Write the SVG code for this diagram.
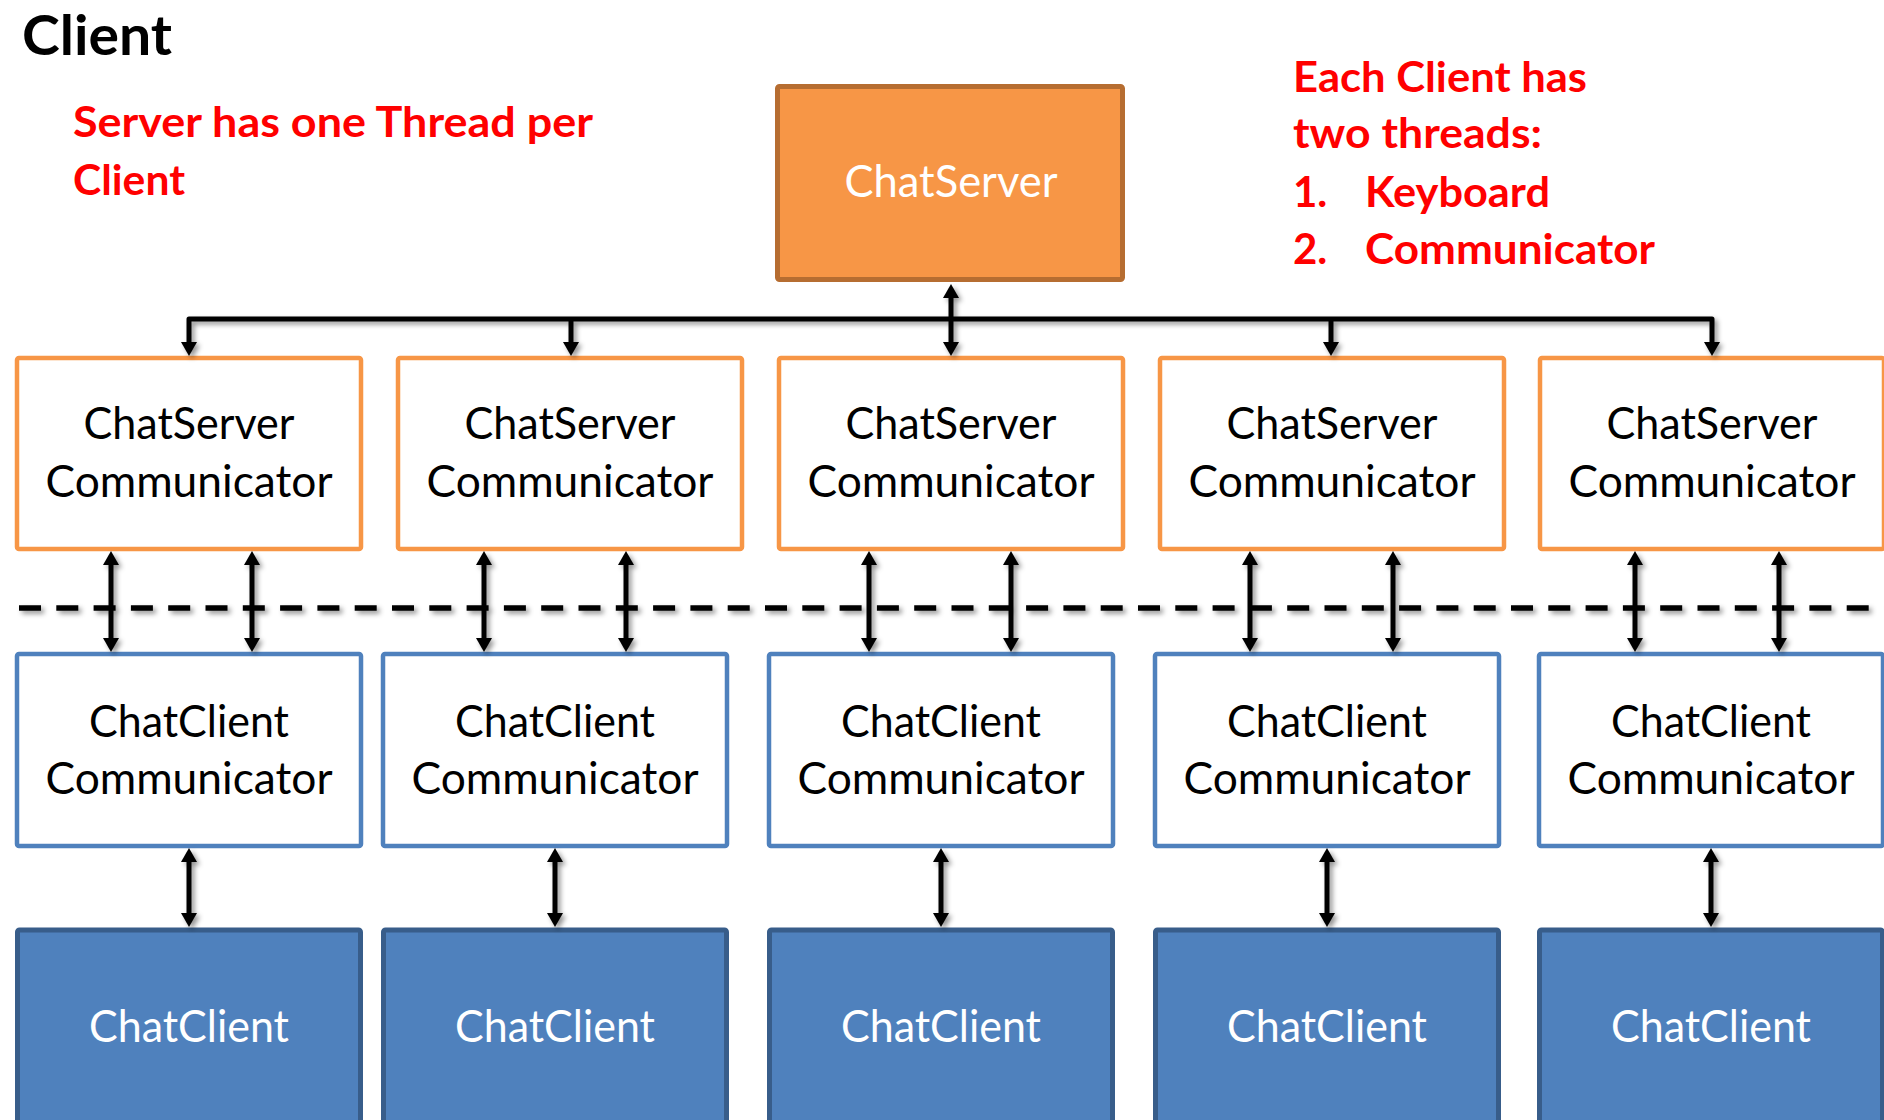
<svg xmlns="http://www.w3.org/2000/svg" width="1884" height="1120" viewBox="0 0 1884 1120">
  <defs>
    <style>
      .srv { fill: #F79646; stroke: #B66D31; stroke-width: 5; }
      .scomm { fill: #FFFFFF; stroke: #F79646; stroke-width: 4.5; }
      .ccomm { fill: #FFFFFF; stroke: #4F81BD; stroke-width: 4.5; }
      .cli { fill: #4F81BD; stroke: #385D8A; stroke-width: 5; }
      .lbl { font-family: Lato, "Open Sans", sans-serif; font-size: 43.5px; text-anchor: middle; }
      .dark { fill: #000000; }
      .light { fill: #FFFFFF; }
      .note { font-family: Lato, "Open Sans", sans-serif; font-weight: bold; font-size: 42px; fill: #FF0000; }
      .title { font-family: Lato, "Open Sans", sans-serif; font-weight: bold; font-size: 55px; fill: #000000; }
      .wire { fill: none; stroke: #000000; stroke-width: 5; stroke-linejoin: round; }
      .arr2 { marker-start: url(#head); marker-end: url(#head); }
      .arr1 { marker-end: url(#head); }
      .dash { fill: none; stroke: #000000; stroke-width: 5.5; stroke-dasharray: 22 15.3; }
    </style>
    <marker id="head" markerUnits="userSpaceOnUse" markerWidth="16" markerHeight="16" refX="4" refY="8" orient="auto-start-reverse" viewBox="0 0 16 16">
      <path d="M0,0 L14,8 L0,16 z" fill="#000000"/>
    </marker>
    <filter id="shade" x="-5%" y="-5%" width="110%" height="115%">
      <feDropShadow dx="3" dy="3" stdDeviation="2.5" flood-color="#000000" flood-opacity="0.42"/>
    </filter>
  </defs>

  <rect width="1884" height="1120" fill="#FFFFFF"/>

  <!-- headings and notes -->
  <text class="title" x="22" y="55" textLength="150" lengthAdjust="spacingAndGlyphs">Client</text>
  <g id="note-server">
    <text class="note" x="73" y="137" textLength="520" lengthAdjust="spacingAndGlyphs">Server has one Thread per</text>
    <text class="note" x="73" y="195" textLength="112" lengthAdjust="spacingAndGlyphs">Client</text>
  </g>
  <g id="note-client">
    <text class="note" x="1293" y="92" textLength="294" lengthAdjust="spacingAndGlyphs">Each Client has</text>
    <text class="note" x="1293" y="148" textLength="249" lengthAdjust="spacingAndGlyphs">two threads:</text>
    <text class="note" x="1293" y="207">1.</text>
    <text class="note" x="1365" y="207" textLength="185" lengthAdjust="spacingAndGlyphs">Keyboard</text>
    <text class="note" x="1293" y="264">2.</text>
    <text class="note" x="1365" y="264" textLength="290" lengthAdjust="spacingAndGlyphs">Communicator</text>
  </g>

  <!-- server -->
  <g id="chat-server">
    <rect class="srv" x="777.5" y="86.5" width="345" height="193" rx="2"/>
    <text class="lbl light" x="951" y="197" textLength="213" lengthAdjust="spacingAndGlyphs">ChatServer</text>
  </g>

  <!-- server-side communicator threads -->
  <g id="server-comm-1">
    <rect class="scomm" x="17" y="358" width="344" height="191" rx="2"/>
    <text class="lbl dark" x="189" y="439" textLength="211" lengthAdjust="spacingAndGlyphs">ChatServer</text>
    <text class="lbl dark" x="189" y="497" textLength="287" lengthAdjust="spacingAndGlyphs">Communicator</text>
  </g>
  <g id="server-comm-2">
    <rect class="scomm" x="398" y="358" width="344" height="191" rx="2"/>
    <text class="lbl dark" x="570" y="439" textLength="211" lengthAdjust="spacingAndGlyphs">ChatServer</text>
    <text class="lbl dark" x="570" y="497" textLength="287" lengthAdjust="spacingAndGlyphs">Communicator</text>
  </g>
  <g id="server-comm-3">
    <rect class="scomm" x="779" y="358" width="344" height="191" rx="2"/>
    <text class="lbl dark" x="951" y="439" textLength="211" lengthAdjust="spacingAndGlyphs">ChatServer</text>
    <text class="lbl dark" x="951" y="497" textLength="287" lengthAdjust="spacingAndGlyphs">Communicator</text>
  </g>
  <g id="server-comm-4">
    <rect class="scomm" x="1160" y="358" width="344" height="191" rx="2"/>
    <text class="lbl dark" x="1332" y="439" textLength="211" lengthAdjust="spacingAndGlyphs">ChatServer</text>
    <text class="lbl dark" x="1332" y="497" textLength="287" lengthAdjust="spacingAndGlyphs">Communicator</text>
  </g>
  <g id="server-comm-5">
    <rect class="scomm" x="1540" y="358" width="344" height="191" rx="2"/>
    <text class="lbl dark" x="1712" y="439" textLength="211" lengthAdjust="spacingAndGlyphs">ChatServer</text>
    <text class="lbl dark" x="1712" y="497" textLength="287" lengthAdjust="spacingAndGlyphs">Communicator</text>
  </g>

  <!-- client-side communicator threads -->
  <g id="client-comm-1">
    <rect class="ccomm" x="17" y="654" width="344" height="192" rx="2"/>
    <text class="lbl dark" x="189" y="737" textLength="200" lengthAdjust="spacingAndGlyphs">ChatClient</text>
    <text class="lbl dark" x="189" y="794" textLength="287" lengthAdjust="spacingAndGlyphs">Communicator</text>
  </g>
  <g id="client-comm-2">
    <rect class="ccomm" x="383" y="654" width="344" height="192" rx="2"/>
    <text class="lbl dark" x="555" y="737" textLength="200" lengthAdjust="spacingAndGlyphs">ChatClient</text>
    <text class="lbl dark" x="555" y="794" textLength="287" lengthAdjust="spacingAndGlyphs">Communicator</text>
  </g>
  <g id="client-comm-3">
    <rect class="ccomm" x="769" y="654" width="344" height="192" rx="2"/>
    <text class="lbl dark" x="941" y="737" textLength="200" lengthAdjust="spacingAndGlyphs">ChatClient</text>
    <text class="lbl dark" x="941" y="794" textLength="287" lengthAdjust="spacingAndGlyphs">Communicator</text>
  </g>
  <g id="client-comm-4">
    <rect class="ccomm" x="1155" y="654" width="344" height="192" rx="2"/>
    <text class="lbl dark" x="1327" y="737" textLength="200" lengthAdjust="spacingAndGlyphs">ChatClient</text>
    <text class="lbl dark" x="1327" y="794" textLength="287" lengthAdjust="spacingAndGlyphs">Communicator</text>
  </g>
  <g id="client-comm-5">
    <rect class="ccomm" x="1539" y="654" width="344" height="192" rx="2"/>
    <text class="lbl dark" x="1711" y="737" textLength="200" lengthAdjust="spacingAndGlyphs">ChatClient</text>
    <text class="lbl dark" x="1711" y="794" textLength="287" lengthAdjust="spacingAndGlyphs">Communicator</text>
  </g>

  <!-- clients -->
  <g id="client-1">
    <rect class="cli" x="17.5" y="930" width="343" height="210" rx="2"/>
    <text class="lbl light" x="189" y="1042" textLength="200" lengthAdjust="spacingAndGlyphs">ChatClient</text>
  </g>
  <g id="client-2">
    <rect class="cli" x="383.5" y="930" width="343" height="210" rx="2"/>
    <text class="lbl light" x="555" y="1042" textLength="200" lengthAdjust="spacingAndGlyphs">ChatClient</text>
  </g>
  <g id="client-3">
    <rect class="cli" x="769.5" y="930" width="343" height="210" rx="2"/>
    <text class="lbl light" x="941" y="1042" textLength="200" lengthAdjust="spacingAndGlyphs">ChatClient</text>
  </g>
  <g id="client-4">
    <rect class="cli" x="1155.5" y="930" width="343" height="210" rx="2"/>
    <text class="lbl light" x="1327" y="1042" textLength="200" lengthAdjust="spacingAndGlyphs">ChatClient</text>
  </g>
  <g id="client-5">
    <rect class="cli" x="1539.5" y="930" width="343" height="210" rx="2"/>
    <text class="lbl light" x="1711" y="1042" textLength="200" lengthAdjust="spacingAndGlyphs">ChatClient</text>
  </g>

  <!-- connectors -->
  <g id="connectors" filter="url(#shade)">
    <!-- network boundary -->
    <line class="dash" x1="19" y1="608" x2="1884" y2="608"/>

    <!-- server bus -->
    <path class="wire arr2" d="M189,346 V319 H1712 V346"/>
    <path class="wire arr1" d="M571,319 V346"/>
    <path class="wire arr1" d="M1331,319 V346"/>
    <path class="wire arr2" d="M951,294 V346"/>

    <!-- socket links -->
    <path class="wire arr2" d="M111,561 V642"/>
    <path class="wire arr2" d="M252,561 V642"/>
    <path class="wire arr2" d="M484,561 V642"/>
    <path class="wire arr2" d="M626,561 V642"/>
    <path class="wire arr2" d="M869,561 V642"/>
    <path class="wire arr2" d="M1011,561 V642"/>
    <path class="wire arr2" d="M1250,561 V642"/>
    <path class="wire arr2" d="M1393,561 V642"/>
    <path class="wire arr2" d="M1635,561 V642"/>
    <path class="wire arr2" d="M1779,561 V642"/>

    <!-- communicator to client -->
    <path class="wire arr2" d="M189,858 V917"/>
    <path class="wire arr2" d="M555,858 V917"/>
    <path class="wire arr2" d="M941,858 V917"/>
    <path class="wire arr2" d="M1327,858 V917"/>
    <path class="wire arr2" d="M1711,858 V917"/>
  </g>
</svg>
